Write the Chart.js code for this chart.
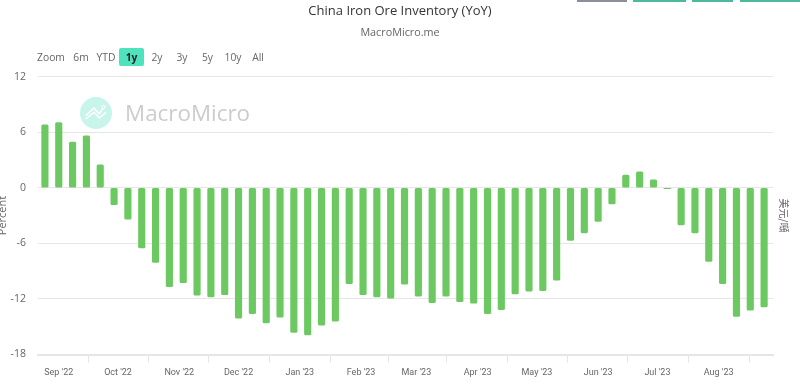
<!DOCTYPE html>
<html>
<head>
<meta charset="utf-8">
<script src="https://cdn.jsdelivr.net/npm/chart.js@4"></script>
<style>
html, body { margin: 0; padding: 0; background: #fff; overflow: hidden; }
#wrap { position: relative; width: 800px; height: 388px; font-family: "Open Sans", sans-serif; color: #666; }
#wrap canvas { position: absolute; left: 0; top: 0; }
.topbtn { position: absolute; top: 0; height: 2px; }
.range { position: absolute; top: 48px; height: 18px; line-height: 18px; font-size: 10.3px; text-align: center; color: #666; }
.range.on { background: #4fe3bd; color: #222; font-weight: 700; border-radius: 2px; }
#mark { position: absolute; left: 125px; top: 98px; font-size: 22.4px; line-height: 30px; color: #ccc; }
#logo { position: absolute; left: 80px; top: 97px; width: 32px; height: 32px; }
</style>
</head>
<body>
<div id="wrap">
    <canvas id="inventoryChart" width="800" height="388"></canvas>
    <div class="topbtn" style="left:577px;width:50px;background:#8a8f98"></div>
    <div class="topbtn" style="left:633px;width:53px;background:#4db89c"></div>
    <div class="topbtn" style="left:692px;width:41px;background:#4db89c"></div>
    <div class="topbtn" style="left:740px;width:60px;background:#4db89c"></div>
    <svg id="logo" viewBox="0 0 32 32">
        <circle cx="16" cy="16" r="16" fill="#c8f5ea"/>
        <polyline points="5.7,18.7 14,11 19,16.7 23.3,11" fill="none" stroke="#fff" stroke-width="1.6"/>
        <polyline points="5.7,22 14,15.3 19.3,21 26,15.3" fill="none" stroke="#fff" stroke-width="1.6"/>
        <circle cx="23.5" cy="10" r="1.6" fill="none" stroke="#fff" stroke-width="1"/>
    </svg>
    <div id="mark">MacroMicro</div>
    <div id="ranges"></div>
</div>
<script>
const weekDates = ['2022-08-25', '2022-09-01', '2022-09-08', '2022-09-15', '2022-09-22', '2022-09-29', '2022-10-06',
    '2022-10-13', '2022-10-20', '2022-10-27', '2022-11-03', '2022-11-10', '2022-11-17', '2022-11-24', '2022-12-01',
    '2022-12-08', '2022-12-15', '2022-12-22', '2022-12-29', '2023-01-05', '2023-01-12', '2023-01-19', '2023-01-26',
    '2023-02-02', '2023-02-09', '2023-02-16', '2023-02-23', '2023-03-02', '2023-03-09', '2023-03-16', '2023-03-23',
    '2023-03-30', '2023-04-06', '2023-04-13', '2023-04-20', '2023-04-27', '2023-05-04', '2023-05-11', '2023-05-18',
    '2023-05-25', '2023-06-01', '2023-06-08', '2023-06-15', '2023-06-22', '2023-06-29', '2023-07-06', '2023-07-13',
    '2023-07-20', '2023-07-27', '2023-08-03', '2023-08-10', '2023-08-17', '2023-08-24'];

const inventoryYoy = [6.79, 7.04, 4.92, 5.6, 2.48, -1.83, -3.38, -6.5, -8.05, -10.67, -10.24, -11.6, -11.79, -11.53,
    -14.09, -13.58, -14.59, -13.98, -15.63, -15.88, -14.84, -14.41, -10.35, -11.53, -11.79, -11.93, -10.42, -11.71,
    -12.4, -11.71, -12.29, -12.47, -13.58, -13.15, -11.46, -11.17, -11.1, -9.99, -5.68, -4.89, -3.63, -1.76, 1.37,
    1.72, 0.86, -0.1, -4.02, -4.89, -7.94, -10.35, -13.9, -13.22, -12.86];

const monthTicks = ['2022-09-01', '2022-10-01', '2022-11-01', '2022-12-01', '2023-01-01', '2023-02-01', '2023-03-01',
    '2023-04-01', '2023-05-01', '2023-06-01', '2023-07-01', '2023-08-01'];
const monthLabels = ["Sep '22", "Oct '22", "Nov '22", "Dec '22", "Jan '23", "Feb '23", "Mar '23", "Apr '23",
    "May '23", "Jun '23", "Jul '23", "Aug '23"];
const yTicks = [-18, -12, -6, 0, 6, 12];

const rangeLabels = ['Zoom', '6m', 'YTD', '1y', '2y', '3y', '5y', '10y', 'All'];
const rangeLefts = [36, 69, 94, 119, 145, 170, 195, 221, 246];
const rangeWidths = [30, 24, 24, 25, 24, 24, 25, 24, 24];

rangeLabels.forEach(function (label, i) {
    let el = document.createElement('div');
    el.className = 'range' + (label === '1y' ? ' on' : '');
    el.style.left = rangeLefts[i] + 'px';
    el.style.width = rangeWidths[i] + 'px';
    el.textContent = label;
    document.getElementById('ranges').appendChild(el);
});

function day(s) {
    return Date.parse(s + 'T00:00:00Z');
}

const points = weekDates.map(function (d, i) {
    return { x: day(d), y: inventoryYoy[i] };
});

const ctx = document.getElementById('inventoryChart').getContext('2d');

new Chart(ctx, {
    type: 'bar',
    data: {
        datasets: [{
            label: 'China Iron Ore Inventory (YoY)',
            data: points,
            backgroundColor: '#6cc962',
            barThickness: 6.5,
            borderRadius: 1.5,
            borderSkipped: false
        }]
    },
    options: {
        responsive: false,
        animation: false,
        plugins: {
            legend: { display: false },
            tooltip: { enabled: false },
            title: {
                display: true,
                text: 'China Iron Ore Inventory (YoY)',
                color: '#333',
                font: { family: '"Open Sans"', size: 13, weight: 'normal' },
                padding: { top: 3, bottom: 5 }
            },
            subtitle: {
                display: true,
                text: 'MacroMicro.me',
                color: '#666',
                font: { family: '"Open Sans"', size: 10.8, weight: 'normal' },
                padding: { top: 3, bottom: 37 }
            }
        },
        scales: {
            x: {
                type: 'linear',
                offset: false,
                min: Date.parse('2022-08-21T12:00:00Z'),
                max: Date.parse('2023-08-28T12:00:00Z'),
                afterBuildTicks: function (axis) {
                    axis.ticks = monthTicks.map(function (d) {
                        return { value: day(d) };
                    });
                },
                afterFit: function (axis) {
                    axis.height = 33.5;
                },
                grid: {
                    drawOnChartArea: false,
                    drawTicks: true,
                    tickLength: 8,
                    color: '#e6e6e6'
                },
                border: { color: '#e6e6e6', width: 2 },
                ticks: {
                    autoSkip: false,
                    maxRotation: 0,
                    color: '#666',
                    font: { family: 'Roboto', size: 9 },
                    padding: 5,
                    callback: function (value) {
                        return monthLabels[monthTicks.findIndex(function (d) {
                            return day(d) === value;
                        })];
                    }
                }
            },
            y: {
                min: -18,
                max: 12,
                afterBuildTicks: function (axis) {
                    axis.ticks = yTicks.map(function (v) {
                        return { value: v };
                    });
                },
                afterFit: function (axis) {
                    axis.width = 38;
                },
                title: {
                    display: true,
                    text: 'Percent',
                    color: '#666',
                    font: { family: '"Open Sans"', size: 11 },
                    padding: { top: -4, bottom: 0 }
                },
                grid: { color: '#e6e6e6', drawTicks: false, tickLength: 0 },
                border: { display: false },
                ticks: {
                    color: '#666',
                    font: { family: '"Open Sans"', size: 10.5 },
                    padding: 12
                }
            },
            unit: {
                position: 'right',
                min: -18,
                max: 12,
                afterFit: function (axis) {
                    axis.width = 27;
                },
                title: {
                    display: true,
                    text: '美元/噸',
                    color: '#666',
                    font: { family: '"Noto Sans CJK TC"', size: 10 },
                    padding: { top: 10, bottom: 0 }
                },
                grid: { drawOnChartArea: false, drawTicks: false, tickLength: 0 },
                border: { display: false },
                ticks: { display: false }
            }
        }
    }
});
</script>
</body>
</html>
